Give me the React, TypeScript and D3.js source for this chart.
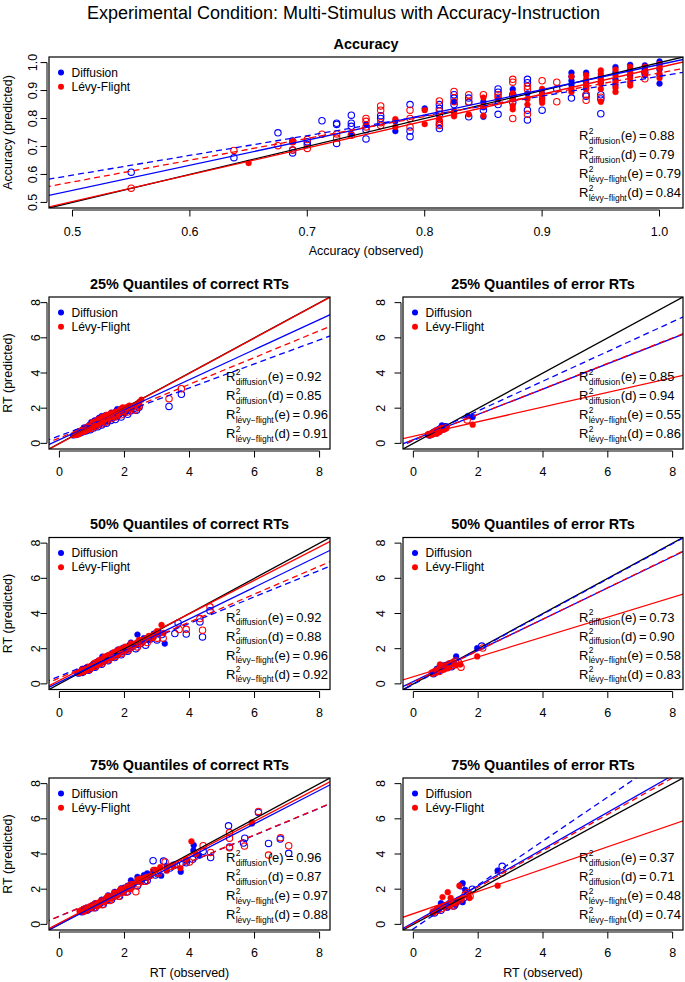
import React from "react";
import * as d3 from "d3";

const FONT = "'Liberation Sans', Arial, Helvetica, sans-serif";
const BLUE = "#0000FF";
const RED = "#FF0000";

// ---------- Accuracy panel data ----------
const accDiffE = [[0.6875,0.723],[0.7375,0.745],[0.75,0.78],[0.775,0.79],[0.775,0.755],[0.8,0.836],[0.825,0.86],[0.85,0.86],[0.85,0.84],[0.85,0.806],[0.8625,0.87],[0.875,0.905],[0.875,0.87],[0.8875,0.89],[0.9,0.89],[0.9,0.87],[0.925,0.964],[0.925,0.95],[0.925,0.935],[0.925,0.92],[0.9375,0.964],[0.9375,0.93],[0.9375,0.91],[0.95,0.95],[0.95,0.93],[0.9625,0.984],[0.9625,0.965],[0.9625,0.94],[0.9625,0.92],[0.975,0.992],[0.975,0.975],[0.975,0.955],[0.9875,0.99],[0.9875,0.975],[0.9875,0.955],[1.0,1.004],[1.0,0.99],[1.0,0.975],[1.0,0.955],[1.0,0.925]];
const accDiffD = [[0.55,0.608],[0.6375,0.66],[0.675,0.749],[0.6875,0.687],[0.6875,0.677],[0.7,0.717],[0.7,0.707],[0.7125,0.792],[0.725,0.783],[0.725,0.779],[0.725,0.711],[0.7375,0.812],[0.7375,0.783],[0.7375,0.772],[0.75,0.76],[0.75,0.727],[0.7625,0.81],[0.7625,0.8],[0.7875,0.85],[0.7875,0.755],[0.7875,0.735],[0.8125,0.85],[0.8125,0.836],[0.8125,0.815],[0.8125,0.78],[0.8125,0.764],[0.825,0.885],[0.825,0.873],[0.825,0.85],[0.8375,0.873],[0.8375,0.858],[0.8375,0.806],[0.85,0.83],[0.8625,0.906],[0.8625,0.894],[0.8625,0.85],[0.8625,0.815],[0.875,0.885],[0.875,0.858],[0.8875,0.94],[0.8875,0.928],[0.8875,0.83],[0.8875,0.795],[0.9,0.83],[0.9125,0.906],[0.925,0.873],[0.9375,0.885],[0.9375,0.88],[0.95,0.885],[0.95,0.87],[0.95,0.817],[0.9875,0.965]];
const accLevyE = [[0.65,0.641],[0.6875,0.717],[0.775,0.798],[0.775,0.77],[0.8,0.83],[0.8,0.78],[0.8125,0.8],[0.825,0.826],[0.825,0.818],[0.825,0.808],[0.8375,0.815],[0.85,0.875],[0.85,0.845],[0.85,0.81],[0.875,0.89],[0.875,0.868],[0.875,0.845],[0.875,0.833],[0.8875,0.87],[0.8875,0.85],[0.9,0.906],[0.9,0.885],[0.9,0.875],[0.9,0.865],[0.9,0.856],[0.925,0.95],[0.925,0.905],[0.925,0.895],[0.9375,0.955],[0.9375,0.94],[0.9375,0.92],[0.9375,0.905],[0.95,0.972],[0.95,0.96],[0.95,0.94],[0.95,0.925],[0.95,0.906],[0.95,0.86],[0.9625,0.975],[0.9625,0.955],[0.9625,0.93],[0.9625,0.91],[0.9625,0.895],[0.975,0.985],[0.975,0.965],[0.975,0.945],[0.975,0.93],[0.975,0.918],[0.9875,0.985],[0.9875,0.965],[1.0,0.995],[1.0,0.98],[1.0,0.96],[1.0,0.945]];
const accLevyD = [[0.55,0.551],[0.6375,0.686],[0.675,0.703],[0.6875,0.717],[0.6875,0.687],[0.7,0.725],[0.7,0.693],[0.7125,0.744],[0.725,0.745],[0.725,0.73],[0.7375,0.74],[0.75,0.8],[0.75,0.79],[0.75,0.77],[0.7625,0.845],[0.7625,0.83],[0.7625,0.785],[0.7625,0.775],[0.7875,0.83],[0.7875,0.8],[0.7875,0.77],[0.8125,0.863],[0.8125,0.826],[0.8125,0.79],[0.8125,0.775],[0.825,0.897],[0.825,0.86],[0.8375,0.885],[0.8375,0.86],[0.85,0.885],[0.8625,0.885],[0.8625,0.876],[0.875,0.94],[0.875,0.93],[0.875,0.8],[0.8875,0.915],[0.8875,0.905],[0.8875,0.815],[0.9,0.935],[0.9125,0.93],[0.9125,0.86],[0.9375,0.885],[0.9375,0.865],[0.95,0.876],[0.9875,0.942]];
// regression lines [intercept, slope]: diffusion(e), diffusion(d), levy(e), levy(d)
const accLines = [[0.093,0.9],[0.244,0.707],[0.023,0.96],[0.183,0.78]];
const accR2 = ["0.88","0.79","0.79","0.84"];
const accTicks = [0.5,0.6,0.7,0.8,0.9,1.0];

// ---------- 25% quantiles ----------
const diffE25c = [[0.42,0.45],[0.5,0.55],[0.58,0.52],[0.62,0.7],[0.68,0.62],[0.72,0.8],[0.78,0.72],[0.82,0.92],[0.88,0.8],[0.92,1.05],[0.96,0.9],[1.0,1.15],[1.04,1.0],[1.08,1.3],[1.12,1.08],[1.16,1.25],[1.2,1.4],[1.25,1.15],[1.3,1.55],[1.35,1.3],[1.4,1.45],[1.45,1.25],[1.5,1.6],[1.55,1.45],[1.6,1.75],[1.68,1.55],[1.75,1.85],[1.82,1.7],[1.9,1.95],[2.0,1.8],[2.1,2.05],[2.2,1.95],[2.35,2.15],[0.55,0.65],[0.65,0.58],[0.75,0.9],[0.85,0.7],[0.98,1.2],[1.1,0.95],[1.22,1.45],[1.28,1.3],[1.42,1.6],[1.5,1.35],[1.62,1.6],[1.78,1.95],[1.95,1.85],[2.05,2.0],[2.25,2.1]];
const diffD25c = [[0.5,0.5],[0.6,0.58],[0.7,0.65],[0.8,0.7],[0.88,0.85],[0.95,0.78],[1.0,0.98],[1.05,0.88],[1.12,1.1],[1.18,0.95],[1.25,1.2],[1.3,1.05],[1.38,1.3],[1.45,1.15],[1.5,1.4],[1.58,1.3],[1.65,1.5],[1.72,1.35],[1.8,1.6],[1.9,1.5],[2.0,1.75],[2.1,1.65],[2.2,1.85],[2.37,1.88],[2.45,2.05],[3.37,2.1],[3.75,2.79],[0.55,0.6],[0.75,0.72],[0.92,0.95],[1.08,1.0],[1.22,1.08],[1.35,1.25],[1.48,1.28],[1.62,1.45],[1.75,1.55],[1.85,1.7],[2.05,1.85],[2.28,1.95],[2.4,2.2]];
const levyE25c = [[0.45,0.48],[0.52,0.58],[0.6,0.55],[0.65,0.72],[0.72,0.66],[0.78,0.85],[0.84,0.78],[0.9,1.0],[0.95,0.88],[1.0,1.1],[1.05,0.98],[1.1,1.25],[1.15,1.1],[1.2,1.38],[1.25,1.22],[1.32,1.5],[1.38,1.35],[1.45,1.62],[1.5,1.45],[1.58,1.72],[1.65,1.58],[1.72,1.8],[1.8,1.68],[1.9,1.98],[2.0,1.85],[2.1,2.08],[2.2,1.98],[2.35,2.2],[2.52,2.48],[0.55,0.52],[0.7,0.75],[0.82,0.9],[0.92,0.85],[1.02,1.2],[1.12,1.05],[1.28,1.42],[1.4,1.55],[1.55,1.6],[1.68,1.7],[1.85,1.9],[1.95,2.05],[2.05,1.95],[2.15,2.15],[2.3,2.1],[2.45,2.35]];
const levyD25c = [[0.5,0.52],[0.6,0.6],[0.7,0.68],[0.8,0.75],[0.9,0.9],[0.98,0.85],[1.05,1.05],[1.12,0.98],[1.2,1.2],[1.28,1.1],[1.35,1.32],[1.42,1.2],[1.5,1.5],[1.58,1.4],[1.65,1.6],[1.72,1.5],[1.8,1.72],[1.9,1.62],[2.0,1.9],[2.1,1.78],[2.2,2.0],[2.32,1.9],[2.45,2.12],[3.37,2.54],[3.75,3.11],[0.58,0.55],[0.75,0.78],[0.85,0.8],[0.95,0.98],[1.1,1.1],[1.25,1.22],[1.38,1.4],[1.55,1.5],[1.68,1.55],[1.85,1.75],[2.05,2.0],[2.25,2.1],[2.4,2.05]];
const lines25c = [[0.21,0.854],[0.43,0.682],[-0.01,1.0],[0.31,0.762]];
const r2_25c = ["0.92","0.85","0.96","0.91"];

const diffE25e = [[0.45,0.5],[0.55,0.55],[0.6,0.62],[0.65,0.6],[0.7,0.72],[0.75,0.68],[0.8,0.82],[0.85,0.78],[0.88,1.02],[0.92,0.95],[0.95,0.88],[1.68,1.55],[1.83,1.5]];
const diffD25e = [[0.5,0.48],[0.58,0.55],[0.65,0.65],[0.7,0.6],[0.75,0.75],[0.8,0.7],[0.85,0.85],[0.9,0.92],[0.95,0.85],[1.0,0.95]];
const levyE25e = [[0.5,0.45],[0.58,0.5],[0.62,0.58],[0.68,0.62],[0.72,0.55],[0.75,0.7],[0.8,0.65],[0.85,0.75],[0.9,0.8],[0.95,0.85],[1.0,0.9],[1.83,1.06]];
const levyD25e = [[0.48,0.5],[0.55,0.52],[0.62,0.6],[0.68,0.65],[0.72,0.72],[0.78,0.68],[0.82,0.78],[0.88,0.85],[0.92,0.8],[1.0,0.88],[1.66,1.33]];
const lines25e = [[0.21,0.72],[0.16,0.844],[0.4,0.417],[0.2,0.725]];
const r2_25e = ["0.85","0.94","0.55","0.86"];

// ---------- 50% quantiles ----------
const diffE50c = [[0.55,0.6],[0.65,0.7],[0.75,0.68],[0.85,0.95],[0.95,0.85],[1.05,1.15],[1.1,1.0],[1.2,1.3],[1.25,1.15],[1.32,1.55],[1.4,1.35],[1.48,1.6],[1.55,1.45],[1.62,1.75],[1.7,1.6],[1.8,1.95],[1.88,1.78],[1.95,2.05],[2.05,1.9],[2.15,2.2],[2.25,2.1],[2.4,2.8],[2.45,2.35],[2.6,2.6],[2.75,2.5],[2.9,2.85],[3.05,2.95],[3.24,2.29],[0.7,0.85],[0.9,0.8],[1.15,1.25],[1.35,1.4],[1.58,1.62],[1.75,1.85],[2.0,2.0],[2.2,2.35],[2.35,2.2],[2.55,2.45]];
const diffD50c = [[0.6,0.62],[0.7,0.65],[0.8,0.8],[0.9,0.78],[1.0,1.0],[1.1,0.95],[1.2,1.2],[1.3,1.12],[1.4,1.42],[1.5,1.32],[1.6,1.6],[1.7,1.5],[1.8,1.75],[1.9,1.65],[2.0,1.95],[2.1,1.85],[2.2,2.1],[2.35,2.0],[2.5,2.3],[2.65,2.2],[2.8,2.55],[3.0,2.5],[3.15,2.8],[3.55,2.86],[3.65,3.46],[3.9,2.83],[4.32,3.52],[4.4,2.67],[4.63,4.15],[0.75,0.75],[0.95,0.9],[1.15,1.1],[1.35,1.28],[1.55,1.48],[1.75,1.65],[1.95,1.82],[2.15,2.0],[2.4,2.25]];
const levyE50c = [[0.58,0.62],[0.68,0.72],[0.78,0.75],[0.88,0.98],[0.98,0.9],[1.08,1.2],[1.15,1.08],[1.22,1.35],[1.3,1.22],[1.38,1.55],[1.45,1.4],[1.52,1.65],[1.6,1.52],[1.68,1.8],[1.75,1.68],[1.85,1.98],[1.92,1.85],[2.02,2.12],[2.1,2.0],[2.2,2.3],[2.3,2.18],[2.45,2.5],[2.6,2.45],[2.75,2.72],[2.9,2.65],[3.0,3.0],[3.14,3.35],[3.2,2.9],[0.72,0.85],[0.92,0.88],[1.12,1.2],[1.34,1.45],[1.55,1.55],[1.78,1.9],[1.98,2.0],[2.15,2.12],[2.38,2.35],[2.68,2.6]];
const levyD50c = [[0.62,0.65],[0.72,0.7],[0.82,0.85],[0.92,0.82],[1.02,1.05],[1.12,1.0],[1.22,1.25],[1.32,1.18],[1.42,1.45],[1.52,1.38],[1.62,1.65],[1.72,1.55],[1.82,1.8],[1.92,1.72],[2.02,2.0],[2.12,1.92],[2.25,2.2],[2.4,2.1],[2.55,2.4],[2.7,2.35],[2.85,2.65],[3.0,2.6],[3.19,2.6],[3.68,3.09],[3.9,3.1],[4.32,3.71],[4.4,3.05],[4.63,4.38],[0.78,0.78],[0.98,0.95],[1.18,1.12],[1.38,1.32],[1.58,1.5],[1.78,1.7],[1.98,1.88],[2.18,2.05],[2.48,2.3]];
const lines50c = [[0.1,0.9],[0.43,0.753],[0.2,0.948],[0.34,0.794]];
const r2_50c = ["0.92","0.88","0.96","0.92"];

const diffE50e = [[0.6,0.62],[0.68,0.7],[0.72,0.85],[0.78,0.75],[0.82,0.95],[0.88,0.85],[0.92,1.05],[1.0,0.95],[1.05,1.1],[1.12,1.0],[1.2,1.2],[1.32,1.56],[1.97,2.03]];
const diffD50e = [[0.62,0.58],[0.7,0.68],[0.75,0.72],[0.8,0.88],[0.85,0.8],[0.9,0.95],[0.95,0.9],[1.02,1.05],[1.1,1.08],[1.18,0.98],[1.25,1.15],[2.11,2.15]];
const levyE50e = [[0.6,0.6],[0.65,0.72],[0.72,0.68],[0.78,0.8],[0.82,1.1],[0.88,0.9],[0.95,0.82],[1.0,1.0],[1.08,0.92],[1.15,1.12],[1.22,1.25],[1.3,1.05],[1.45,1.1],[1.97,1.56]];
const levyD50e = [[0.58,0.62],[0.66,0.65],[0.74,0.78],[0.8,0.7],[0.86,0.92],[0.92,0.85],[0.98,1.0],[1.05,0.92],[1.12,1.15],[1.2,1.05],[1.3,1.3],[1.4,1.2],[1.47,0.95],[2.14,2.04]];
const lines50e = [[0.13,0.888],[-0.03,1.0],[0.41,0.564],[0.1,0.895]];
const r2_50e = ["0.73","0.90","0.58","0.83"];

// ---------- 75% quantiles ----------
const diffE75c = [[0.65,0.7],[0.8,0.75],[0.9,0.95],[1.0,0.92],[1.1,1.2],[1.2,1.1],[1.3,1.4],[1.4,1.3],[1.5,1.65],[1.6,1.5],[1.7,1.85],[1.8,1.7],[1.9,2.05],[2.0,1.9],[2.1,2.2],[2.2,2.5],[2.3,2.35],[2.4,2.7],[2.5,2.55],[2.6,2.8],[2.75,2.7],[2.88,3.0],[3.13,2.77],[3.3,3.3],[3.5,3.4],[3.73,2.99],[3.9,3.6],[4.12,4.2],[4.13,4.5],[4.3,3.9],[5.92,5.74],[0.75,0.85],[1.05,1.05],[1.25,1.25],[1.45,1.5],[1.65,1.65],[1.85,1.9],[2.05,2.05],[2.25,2.2],[2.45,2.45],[2.7,2.9]];
const diffD75c = [[0.7,0.72],[0.85,0.8],[1.0,1.0],[1.1,0.95],[1.25,1.2],[1.35,1.15],[1.5,1.5],[1.6,1.4],[1.75,1.75],[1.85,1.6],[2.0,2.05],[2.1,1.85],[2.25,2.3],[2.4,2.2],[2.55,2.6],[2.7,2.5],[2.88,3.62],[2.95,2.8],[3.2,3.6],[3.4,3.2],[3.6,3.4],[3.9,3.5],[4.1,3.7],[4.42,4.15],[4.65,3.8],[5.2,5.6],[5.23,4.4],[5.66,4.62],[5.7,4.9],[6.12,6.36],[6.43,4.6],[6.79,4.85],[7.05,4.04],[0.9,0.88],[1.15,1.1],[1.42,1.35],[1.68,1.6],[1.95,1.85],[2.18,2.1],[2.62,2.45]];
const levyE75c = [[0.62,0.75],[0.75,0.72],[0.88,0.9],[0.98,1.0],[1.08,1.15],[1.18,1.05],[1.28,1.35],[1.38,1.25],[1.48,1.6],[1.58,1.45],[1.68,1.8],[1.78,1.65],[1.88,2.0],[1.98,1.85],[2.08,2.15],[2.18,2.0],[2.28,2.3],[2.4,2.55],[2.5,2.4],[2.62,2.65],[2.8,2.75],[2.95,3.1],[3.1,3.25],[3.3,3.05],[3.5,3.3],[3.72,3.2],[3.9,3.7],[4.06,4.72],[4.2,4.0],[5.92,5.8],[0.82,0.85],[1.02,1.08],[1.22,1.22],[1.42,1.45],[1.62,1.62],[1.82,1.85],[2.02,2.0],[2.22,2.2],[2.48,2.6],[2.7,2.7]];
const levyD75c = [[0.68,0.78],[0.82,0.8],[0.95,1.0],[1.05,0.95],[1.2,1.2],[1.32,1.12],[1.45,1.45],[1.55,1.35],[1.7,1.7],[1.82,1.6],[1.95,2.0],[2.05,1.82],[2.2,2.25],[2.35,1.85],[2.5,2.5],[2.65,2.45],[2.9,3.06],[3.05,2.9],[3.25,3.55],[3.45,3.3],[3.72,3.45],[4.0,3.55],[4.42,4.47],[4.65,4.09],[5.23,5.22],[5.23,4.9],[5.23,4.35],[5.69,4.45],[6.12,6.42],[6.43,3.94],[6.8,4.93],[7.05,4.47],[0.88,0.92],[1.12,1.08],[1.38,1.32],[1.62,1.55],[1.88,1.8],[2.12,2.05],[2.42,2.3]];
const lines75c = [[0.0,0.953],[0.46,0.768],[0.07,0.966],[0.47,0.769]];
const r2_75c = ["0.96","0.87","0.97","0.88"];

const diffE75e = [[0.6,0.7],[0.7,0.8],[0.8,0.9],[0.85,1.2],[0.9,1.0],[1.0,1.1],[1.05,0.95],[1.1,1.2],[1.2,1.3],[1.3,1.1],[1.4,1.4],[1.52,1.26],[1.52,2.34],[1.6,1.96],[1.7,1.6],[2.6,3.06]];
const diffD75e = [[0.65,0.65],[0.75,0.85],[0.85,0.8],[0.95,1.05],[1.05,1.0],[1.15,1.15],[1.25,1.05],[1.35,1.3],[1.47,2.2],[1.55,1.5],[1.82,2.0],[2.74,3.3]];
const levyE75e = [[0.6,0.65],[0.72,0.85],[0.82,0.95],[0.9,1.55],[0.95,1.05],[1.06,1.83],[1.1,1.1],[1.15,1.5],[1.25,1.2],[1.35,1.35],[1.42,2.2],[1.5,1.45],[1.73,1.5],[2.6,2.2]];
const levyD75e = [[0.62,0.7],[0.75,0.8],[0.88,0.9],[1.0,1.0],[1.12,1.1],[1.22,1.05],[1.3,1.25],[1.45,1.4],[1.6,1.7],[1.68,1.8],[1.75,1.6],[2.74,2.92]];
const lines75e = [[0.1,1.046],[-0.25,1.248],[0.61,0.634],[0.05,1.035]];
const r2_75e = ["0.37","0.71","0.48","0.74"];

const rtTicks = [0, 2, 4, 6, 8];
const r2Names = ["diffusion", "diffusion", "lévy\u2212flight", "lévy\u2212flight"];
const r2Tags = ["e", "d", "e", "d"];
const legendNames = ["Diffusion", "Lévy-Flight"];

let _cv: HTMLCanvasElement | null = null;
function measure(text: string, size: number, weight = "normal") {
  if (!_cv) _cv = document.createElement("canvas");
  const ctx = _cv.getContext("2d")!;
  ctx.font = `${weight} ${size}px ${FONT}`;
  return ctx.measureText(text).width;
}

type Pt = number[];
interface PanelProps {
  id: string;
  box: { x0: number; x1: number; y0: number; y1: number };
  domain: [number, number];
  ticks: number[];
  fmt: (v: number) => string;
  title: string;
  pts: Pt[][];
  lines: number[][];
  r2: string[];
  yTickX: number;
  xTickDy: number;
  yLabel?: string;
  xLabel?: string;
}

function Panel(p: PanelProps) {
  const { box } = p;
  const x = d3.scaleLinear().domain(p.domain).range([box.x0, box.x1]);
  const y = d3.scaleLinear().domain(p.domain).range([box.y1, box.y0]);
  const colors = [BLUE, BLUE, RED, RED];
  const filled = [true, false, true, false];
  const lineGen = d3.line<number[]>().x((d) => x(d[0])).y((d) => y(d[1]));
  const mkLine = (a: number, b: number) =>
    lineGen([[p.domain[0] - 1, a + b * (p.domain[0] - 1)], [p.domain[1] + 1, a + b * (p.domain[1] + 1)]]) || "";
  const cx = (box.x0 + box.x1) / 2;
  const cy = (box.y0 + box.y1) / 2;
  const tickOff = 2;
  const tickLen = 6.5;
  const r2x = box.x1 - 104;
  return (
    <g>
      <defs>
        <clipPath id={p.id}>
          <rect x={box.x0} y={box.y0} width={box.x1 - box.x0} height={box.y1 - box.y0} />
        </clipPath>
      </defs>
      <g clipPath={`url(#${p.id})`}>
        {p.pts.map((grp, gi) =>
          grp.map((d, i) => (
            <circle
              key={`${gi}-${i}`}
              cx={x(d[0])}
              cy={y(d[1])}
              r={filled[gi] ? 2.9 : 3.2}
              fill={filled[gi] ? colors[gi] : "none"}
              stroke={colors[gi]}
              strokeWidth={filled[gi] ? 0.5 : 1.1}
            />
          ))
        )}
        <path d={mkLine(0, 1)} stroke="#000" strokeWidth={1.3} fill="none" />
        {[0, 1, 2, 3].map((k) => (
          <path
            key={k}
            d={mkLine(p.lines[k][0], p.lines[k][1])}
            stroke={colors[k]}
            strokeWidth={1.3}
            strokeDasharray={filled[k] ? undefined : "6,4"}
            fill="none"
          />
        ))}
      </g>
      <rect x={box.x0} y={box.y0} width={box.x1 - box.x0} height={box.y1 - box.y0} fill="none" stroke="#000" strokeWidth={1.2} />
      {/* x axis */}
      <line x1={x(p.ticks[0])} x2={x(p.ticks[p.ticks.length - 1])} y1={box.y1 + tickOff} y2={box.y1 + tickOff} stroke="#000" strokeWidth={1} />
      {p.ticks.map((t) => (
        <g key={`xt${t}`}>
          <line x1={x(t)} x2={x(t)} y1={box.y1 + tickOff} y2={box.y1 + tickOff + tickLen} stroke="#000" strokeWidth={1} />
          <text x={x(t)} y={box.y1 + p.xTickDy} textAnchor="middle" dominantBaseline="central" fontSize={12.5} fill="#000">
            {p.fmt(t)}
          </text>
        </g>
      ))}
      {/* y axis */}
      <line x1={box.x0 - tickOff} x2={box.x0 - tickOff} y1={y(p.ticks[0])} y2={y(p.ticks[p.ticks.length - 1])} stroke="#000" strokeWidth={1} />
      {p.ticks.map((t) => (
        <g key={`yt${t}`}>
          <line x1={box.x0 - tickOff} x2={box.x0 - tickOff - tickLen} y1={y(t)} y2={y(t)} stroke="#000" strokeWidth={1} />
          <text transform={`translate(${p.yTickX},${y(t)}) rotate(-90)`} textAnchor="middle" dominantBaseline="central" fontSize={12.5} fill="#000">
            {p.fmt(t)}
          </text>
        </g>
      ))}
      {/* title */}
      <text x={cx} y={box.y0 - 8.5} textAnchor="middle" fontSize={14.4} fontWeight="bold" fill="#000">
        {p.title}
      </text>
      {p.yLabel && (
        <text transform={`translate(8,${cy}) rotate(-90)`} textAnchor="middle" dominantBaseline="central" fontSize={12.5} fill="#000">
          {p.yLabel}
        </text>
      )}
      {p.xLabel && (
        <text x={cx} y={box.y1 + 43} textAnchor="middle" dominantBaseline="central" fontSize={12.5} fill="#000">
          {p.xLabel}
        </text>
      )}
      {/* legend */}
      {legendNames.map((nm, i) => (
        <g key={nm}>
          <circle cx={box.x0 + 12} cy={box.y0 + 15.5 + i * 14.2} r={3} fill={i === 0 ? BLUE : RED} />
          <text x={box.x0 + 22.5} y={box.y0 + 15.5 + i * 14.2} dominantBaseline="central" fontSize={12} fill="#000">
            {nm}
          </text>
        </g>
      ))}
      {/* R^2 legend */}
      {p.r2.map((val, i) => {
        const b = box.y1 - 11 - (3 - i) * 19;
        const wR = measure("R", 13);
        const sx = r2x + wR + 0.3;
        const wS = Math.max(measure(r2Names[i], 8.5), measure("2", 8.5));
        const tx = sx + wS + 0.5;
        const tag = `(${r2Tags[i]})`;
        const wTag = measure(tag, 13);
        const ex = tx + wTag + 2.5;
        const vx = ex + measure("=", 13) + 2.5;
        return (
          <g key={`r2${i}`} fill="#000">
            <text x={r2x} y={b} fontSize={13}>R</text>
            <text x={sx} y={b - 6.5} fontSize={8.5}>2</text>
            <text x={sx} y={b + 3.5} fontSize={8.5}>{r2Names[i]}</text>
            <text x={tx} y={b} fontSize={13}>{tag}</text>
            <text x={ex} y={b} fontSize={13}>=</text>
            <text x={vx} y={b} fontSize={13}>{val}</text>
          </g>
        );
      })}
    </g>
  );
}

const rtRows = [297, 537.5, 778];
const rtCols = [[49, 330], [403, 683]];
const rtPanels = [
  { title: "25% Quantiles of correct RTs", row: 0, col: 0, pts: [diffE25c, diffD25c, levyE25c, levyD25c], lines: lines25c, r2: r2_25c },
  { title: "25% Quantiles of error RTs", row: 0, col: 1, pts: [diffE25e, diffD25e, levyE25e, levyD25e], lines: lines25e, r2: r2_25e },
  { title: "50% Quantiles of correct RTs", row: 1, col: 0, pts: [diffE50c, diffD50c, levyE50c, levyD50c], lines: lines50c, r2: r2_50c },
  { title: "50% Quantiles of error RTs", row: 1, col: 1, pts: [diffE50e, diffD50e, levyE50e, levyD50e], lines: lines50e, r2: r2_50e },
  { title: "75% Quantiles of correct RTs", row: 2, col: 0, pts: [diffE75c, diffD75c, levyE75c, levyD75c], lines: lines75c, r2: r2_75c },
  { title: "75% Quantiles of error RTs", row: 2, col: 1, pts: [diffE75e, diffD75e, levyE75e, levyD75e], lines: lines75e, r2: r2_75e },
];

export default function App() {
  return (
    <svg
      width={685}
      height={982}
      viewBox="0 0 685 982"
      style={{ position: "absolute", left: 0, top: 0, background: "#fff" }}
      fontFamily={FONT}
    >
      <rect x={0} y={0} width={685} height={982} fill="#fff" />
      <text x={343.5} y={18.5} textAnchor="middle" fontSize={18} fill="#000">
        Experimental Condition: Multi-Stimulus with Accuracy-Instruction
      </text>
      <Panel
        id="clip-acc"
        box={{ x0: 49, x1: 683, y0: 57, y1: 208 }}
        domain={[0.48, 1.02]}
        ticks={accTicks}
        fmt={(v) => v.toFixed(1)}
        title="Accuracy"
        pts={[accDiffE, accDiffD, accLevyE, accLevyD]}
        lines={accLines}
        r2={accR2}
        yTickX={32.5}
        xTickDy={24}
        yLabel="Accuracy (predicted)"
        xLabel="Accuracy (observed)"
      />
      {rtPanels.map((pp, i) => {
        const [x0, x1] = rtCols[pp.col];
        const y0 = rtRows[pp.row];
        return (
          <Panel
            key={i}
            id={`clip-rt${i}`}
            box={{ x0, x1, y0, y1: y0 + 152 }}
            domain={[-0.32, 8.32]}
            ticks={rtTicks}
            fmt={(v) => String(v)}
            title={pp.title}
            pts={pp.pts}
            lines={pp.lines}
            r2={pp.r2}
            yTickX={pp.col === 0 ? 35.5 : 380.5}
            xTickDy={23}
            yLabel={pp.col === 0 ? "RT (predicted)" : undefined}
            xLabel={pp.row === 2 ? "RT (observed)" : undefined}
          />
        );
      })}
    </svg>
  );
}
